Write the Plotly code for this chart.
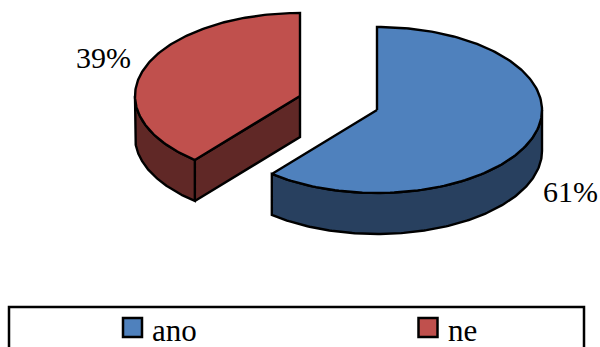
import numpy as np
import plotly.graph_objects as go

# Chart data
categories = ["ano", "ne"]
shares = [61, 39]
share_labels = ["61%", "39%"]

# Face and wall colours per slice
TOP_COLORS = ["#4F81BD", "#C0504D"]
SIDE_COLORS = ["#28405F", "#602826"]
EDGE = "#000000"
EDGE_W = 2.4
FONT = "Liberation Serif, Times New Roman, serif"

# Projection of the tilted pie, in page pixels
RX, RY, DEPTH = 165, 83, 41
CENTERS = [(377, 110), (300, 96)]


def rim(cx, cy, a0, a1, dy=0):
    """Ellipse rim between two clockwise angles measured from 12 o'clock."""
    t = np.radians(np.linspace(a0, a1, 160))
    return cx + RX * np.sin(t), cy - RY * np.cos(t) + dy


def poly(fig, xs, ys, color):
    fig.add_trace(go.Scatter(
        x=list(xs), y=list(ys), mode="lines", fill="toself", fillcolor=color,
        line=dict(color=EDGE, width=EDGE_W), hoverinfo="skip", showlegend=False,
    ))


fig = go.Figure()

total = sum(shares)
split = 360 * shares[0] / total  # clockwise angle where the first slice ends

# Second slice: cut faces, outer wall, top
cx, cy = CENTERS[1]
tx, ty = rim(cx, cy, split, split)
poly(fig, [cx, tx[0], tx[0], cx, cx], [cy, ty[0], ty[0] + DEPTH, cy + DEPTH, cy], SIDE_COLORS[1])
wx, wy = rim(cx, cy, split, 270)
bx, by = rim(cx, cy, split, 270, DEPTH)
poly(fig, np.r_[wx, bx[::-1], wx[0]], np.r_[wy, by[::-1], wy[0]], SIDE_COLORS[1])
ax, ay = rim(cx, cy, split, 360)
poly(fig, np.r_[cx, ax, cx], np.r_[cy, ay, cy], TOP_COLORS[1])

# First slice: outer wall, top
cx, cy = CENTERS[0]
wx, wy = rim(cx, cy, 90, split)
bx, by = rim(cx, cy, 90, split, DEPTH)
poly(fig, np.r_[wx, bx[::-1], wx[0]], np.r_[wy, by[::-1], wy[0]], SIDE_COLORS[0])
ax, ay = rim(cx, cy, 0, split)
poly(fig, np.r_[cx, ax, cx], np.r_[cy, ay, cy], TOP_COLORS[0])

# Legend swatches
for cat_x, color in zip([132.5, 428], TOP_COLORS):
    fig.add_trace(go.Scatter(
        x=[cat_x], y=[327.5], mode="markers", hoverinfo="skip", showlegend=False,
        marker=dict(symbol="square", size=19, color=color, line=dict(color=EDGE, width=2.5)),
    ))

annotations = [
    dict(x=570, y=191, text=share_labels[0], size=30),
    dict(x=103.5, y=57, text=share_labels[1], size=30),
    dict(x=174.5, y=330, text=categories[0], size=31),
    dict(x=462, y=330, text=categories[1], size=31),
]

fig.update_layout(
    width=600, height=347, margin=dict(l=0, r=0, t=0, b=0),
    paper_bgcolor="white", plot_bgcolor="white", showlegend=False,
    xaxis=dict(range=[0, 600], visible=False, fixedrange=True),
    yaxis=dict(range=[347, 0], visible=False, fixedrange=True),
    shapes=[dict(type="rect", x0=9, x1=584, y0=307, y1=370,
                 line=dict(color=EDGE, width=2.5), fillcolor="rgba(0,0,0,0)", layer="below")],
    annotations=[
        dict(x=a["x"], y=a["y"], text=a["text"], showarrow=False, xanchor="center", yanchor="middle",
             font=dict(family=FONT, size=a["size"], color="#000000"))
        for a in annotations
    ],
)

fig.write_html("out.html", config=dict(displayModeBar=False))
